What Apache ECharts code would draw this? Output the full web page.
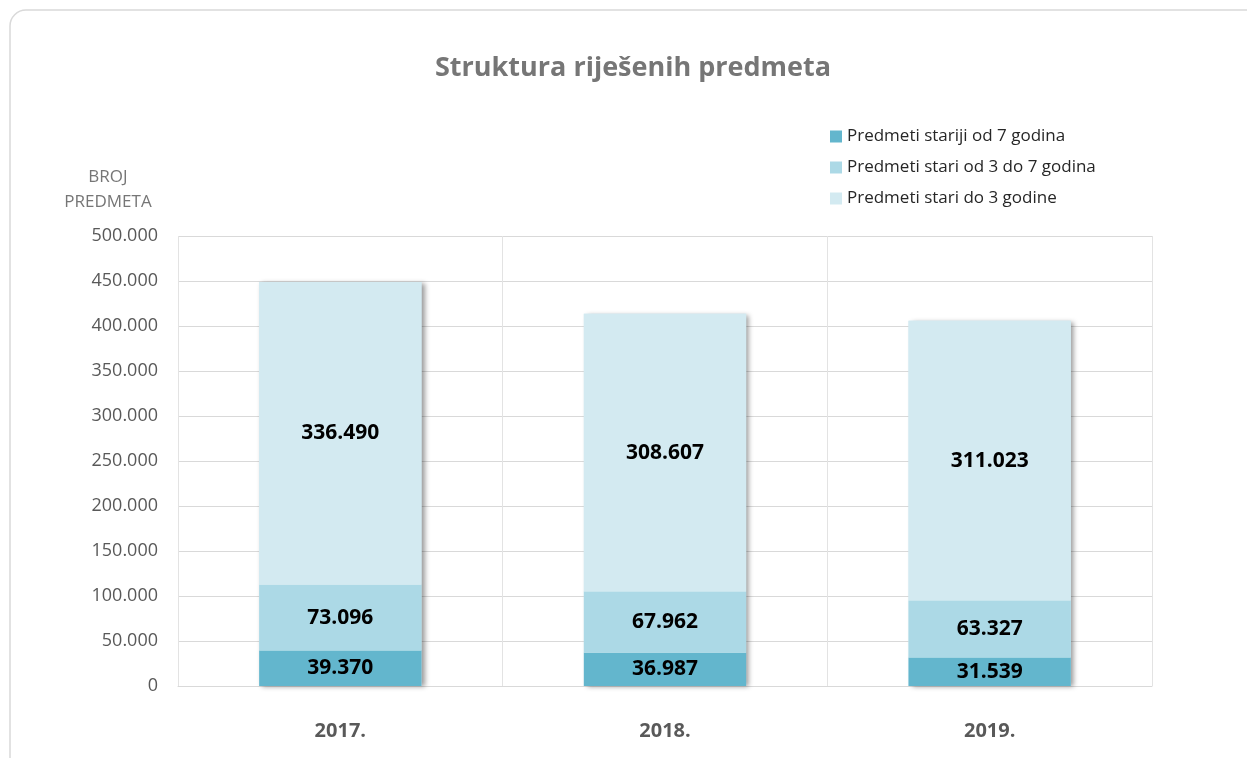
<!DOCTYPE html>
<html>
<head>
<meta charset="utf-8">
<script src="https://cdn.jsdelivr.net/npm/echarts@6/dist/echarts.min.js"></script>
<style>
html,body{margin:0;padding:0;background:#fff;}
#chart{width:1247px;height:758px;}
</style>
</head>
<body>
<div id="chart"></div>
<script>
const categories = ['2017.', '2018.', '2019.'];
const olderThan7 = [39370, 36987, 31539];
const from3to7 = [73096, 67962, 63327];
const upTo3 = [336490, 308607, 311023];
const seriesNames = ['Predmeti stariji od 7 godina', 'Predmeti stari od 3 do 7 godina', 'Predmeti stari do 3 godine'];
const colors = ['#63b6cd', '#acd9e6', '#d3eaf1'];
const totals = categories.map((c, i) => olderThan7[i] + from3to7[i] + upTo3[i]);

const fmt = v => {
  const s = Math.round(v).toString();
  return s.replace(/\B(?=(\d{3})+(?!\d))/g, '.');
};

const chart = echarts.init(document.getElementById('chart'));
const font = '"Open Sans", "Noto Sans", sans-serif';

function mkSeries(name, data, color) {
  return {
    name: name,
    type: 'bar',
    stack: 'total',
    barWidth: '50%',
    barGap: '-100%',
    z: 3,
    data: data,
    itemStyle: { color: color },
    label: {
      show: true,
      position: 'inside',
      color: '#000',
      fontWeight: 'bold',
      fontSize: 21,
      fontFamily: font,
      formatter: p => fmt(p.value)
    }
  };
}

chart.setOption({
  animation: false,
  backgroundColor: '#fff',
  color: colors,
  title: {
    text: 'Struktura riješenih predmeta',
    left: 430,
    top: 50,
    textStyle: { fontSize: 27, fontWeight: 'bold', color: '#767676', fontFamily: font }
  },
  legend: {
    orient: 'vertical',
    left: 825,
    top: 123,
    itemWidth: 12,
    itemHeight: 12,
    itemGap: 14,
    icon: 'rect',
    textStyle: { fontSize: 17, color: '#262626', fontFamily: font },
    data: seriesNames
  },
  graphic: [
    {
      type: 'rect',
      shape: { x: 10, y: 10, width: 1270, height: 790, r: 16 },
      style: { fill: 'none', stroke: '#d9d9d9', lineWidth: 1.5 },
      silent: true
    },
    {
      type: 'text',
      x: 108,
      y: 165,
      style: {
        text: 'BROJ\nPREDMETA',
        align: 'center',
        fontSize: 17,
        lineHeight: 25,
        fill: '#767676',
        fontFamily: font
      }
    }
  ],
  grid: { left: 178, right: 95, top: 236, bottom: 72 },
  xAxis: {
    type: 'category',
    data: categories,
    axisLine: { show: true, lineStyle: { color: '#d9d9d9' } },
    axisTick: { show: false },
    splitLine: { show: true, lineStyle: { color: '#e3e3e3' } },
    axisLabel: { fontSize: 20, fontWeight: 'bold', color: '#595959', margin: 35, fontFamily: font }
  },
  yAxis: {
    type: 'value',
    min: 0,
    max: 500000,
    interval: 50000,
    axisLine: { show: false },
    axisTick: { show: false },
    splitLine: { lineStyle: { color: '#d9d9d9' } },
    axisLabel: { fontSize: 18, color: '#595959', margin: 20, fontFamily: font, formatter: v => fmt(v) }
  },
  series: [
    {
      name: 'shadow',
      type: 'bar',
      barWidth: '50%',
      z: 1,
      silent: true,
      data: totals,
      itemStyle: {
        color: '#d3eaf1',
        shadowColor: 'rgba(0,0,0,0.4)',
        shadowBlur: 5,
        shadowOffsetX: 3,
        shadowOffsetY: 1
      },
      label: { show: false },
      tooltip: { show: false }
    },
    mkSeries(seriesNames[0], olderThan7, colors[0]),
    mkSeries(seriesNames[1], from3to7, colors[1]),
    mkSeries(seriesNames[2], upTo3, colors[2])
  ]
});
</script>
</body>
</html>
